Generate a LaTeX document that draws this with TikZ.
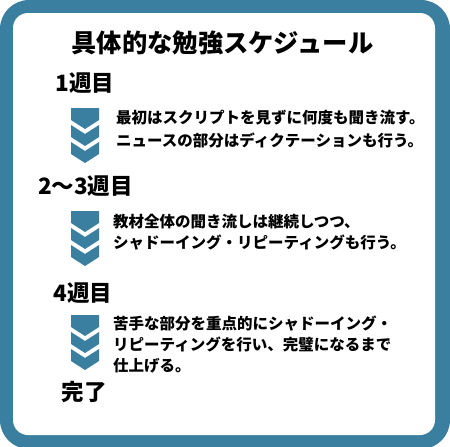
\documentclass[tikz,border=0pt]{standalone}
\usepackage{fontspec}
\newfontfamily\jpfont{Noto Sans CJK JP}
\usetikzlibrary{positioning}
\definecolor{waku}{HTML}{3A7FA0}

\tikzset{
  title/.style={font=\jpfont\bfseries\fontsize{25.3}{28}\selectfont,inner sep=0pt},
  midashi/.style={font=\jpfont\bfseries\fontsize{22.5}{26}\selectfont,inner sep=0pt},
  honbun/.style={font=\jpfont\bfseries\fontsize{15.5}{23}\selectfont,align=left,anchor=west,inner sep=0pt},
  yaji/.style={fill=waku}
}

\begin{document}
\begin{tikzpicture}[x=1pt,y=-1pt]
\useasboundingbox (0,0) rectangle (450,447);

% frame
\fill[waku,rounded corners=29pt] (0,0) rectangle (450,449);
\fill[white,rounded corners=15pt] (13,13) rectangle (435,435);

\node[title] (t) at (222.5,43) {具体的な勉強スケジュール};

% steps
\node[midashi] (w1) at (85,83) {1週目};
\node[midashi] (w2) at (85.5,186) {2～3週目};
\node[midashi] (w3) at (83,293) {4週目};
\node[midashi] (w4) at (84,392) {完了};

% chevrons
\foreach \i / \y in {1/108,2/211,3/315} {
  \coordinate (c\i) at (85,\y);
  \begin{scope}[shift={(c\i)}]
    \fill[yaji] (-14,0) -- (14,0) -- (14,12) -- (0,21) -- (-14,12) -- cycle;
    \foreach \t in {17,34}
      \fill[yaji] (-14,\t) -- (0,\t+9) -- (14,\t) -- (14,\t+12) -- (0,\t+21) -- (-14,\t+12) -- cycle;
  \end{scope}
}

\node[honbun] (b1) at (116,129.5) {最初はスクリプトを見ずに何度も聞き流す。\\ニュースの部分はディクテーションも行う。};
\node[honbun,font=\jpfont\bfseries\fontsize{15.5}{21}\selectfont] (b2) at (113,232) {教材全体の聞き流しは継続しつつ、\\シャドーイング・リピーティングも行う。};
\node[honbun,font=\jpfont\bfseries\fontsize{15.5}{21}\selectfont] (b3) at (113,345) {苦手な部分を重点的にシャドーイング・\\リピーティングを行い、完璧になるまで\\仕上げる。};

\end{tikzpicture}
\end{document}
